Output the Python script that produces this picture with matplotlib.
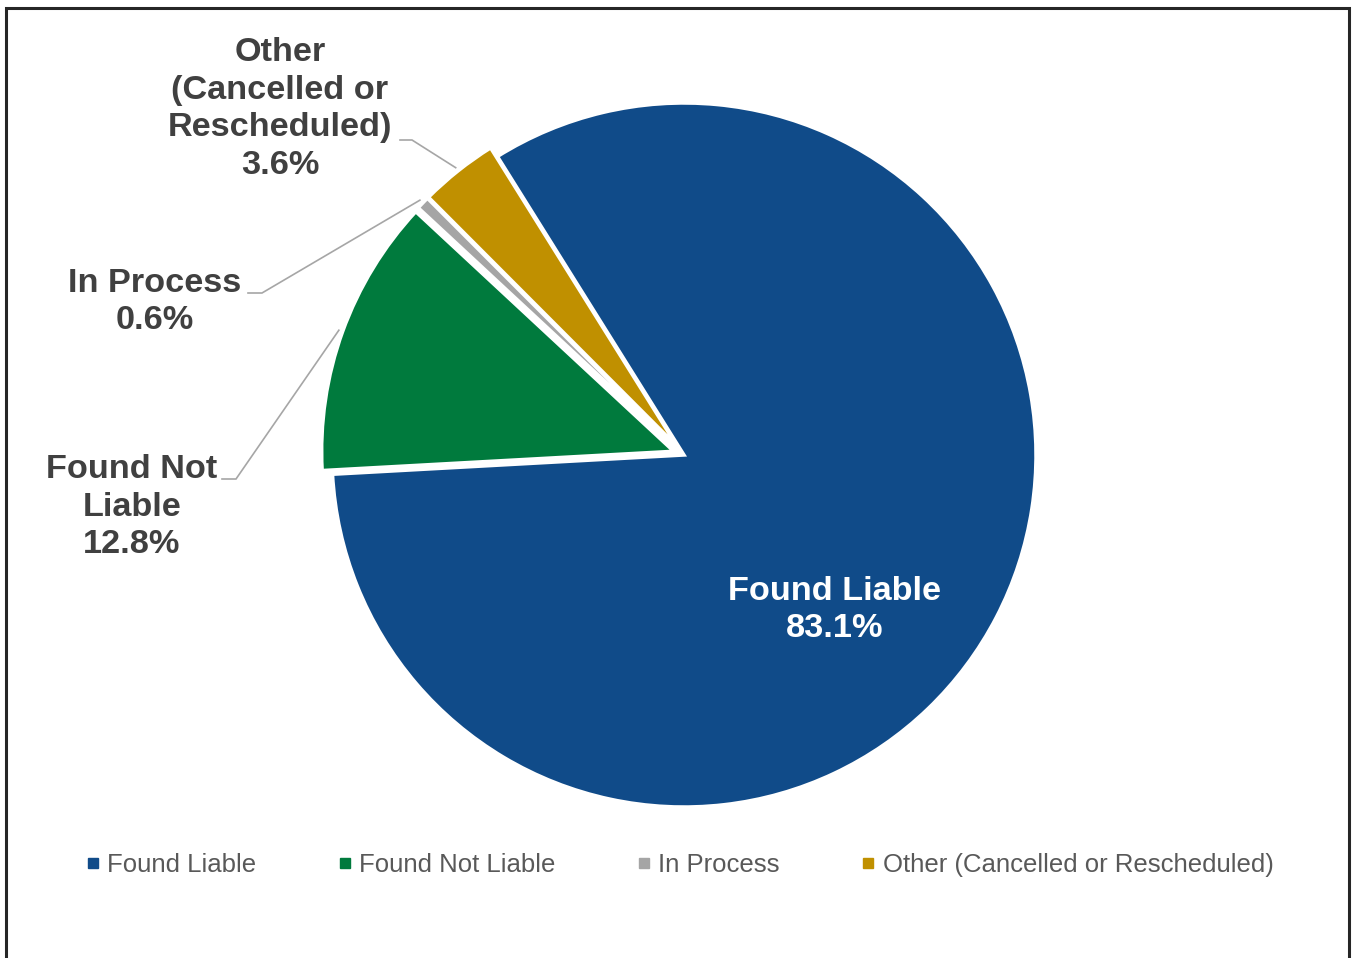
import numpy as np
import matplotlib

matplotlib.use('Agg')
from matplotlib import pyplot as plt
from matplotlib.lines import Line2D
from matplotlib.patches import Rectangle

plt.rcParams['font.family'] = ['Liberation Sans', 'DejaVu Sans']

categories = ['Found Liable', 'Found Not Liable', 'In Process', 'Other (Cancelled or Rescheduled)']
label_names = ['Found Liable', 'Found Not\nLiable', 'In Process', 'Other\n(Cancelled or\nRescheduled)']
shares = [83.1, 12.8, 0.6, 3.6]
colors = ['#104B89', '#007A3D', '#A5A5A5', '#C09000']

W, H = 1352, 958
CENTER = (684, H - 455)
RADIUS = 352
START = 122
EXPLODE_PX = [0, 11, 11, 11]

# label anchor (text centre) and elbow of leader line, image pixels
label_pos = {1: (132, 507), 2: (155, 302), 3: (280, 109)}
elbow_pos = {1: (236, 479), 2: (262, 293), 3: (412, 140)}
elbow_start = {1: (222, 479), 2: (248, 293), 3: (400, 140)}

LABEL_FS = 24.7
LABEL_LS = 1.29

fig = plt.figure(figsize=(W / 100, H / 100), dpi=100)
ax = fig.add_axes([0, 0, 1, 1])
ax.axis('off')

wedges, _ = ax.pie(shares, colors=colors, explode=EXPLODE_PX, startangle=START,
                   counterclock=False, center=CENTER, radius=RADIUS,
                   wedgeprops=dict(edgecolor='white', linewidth=2.5))
ax.set_xlim(0, W)
ax.set_ylim(0, H)
ax.set_aspect('equal')

for i, w in enumerate(wedges):
    pct = f'{shares[i]:.1f}%'
    mid = np.deg2rad((w.theta1 + w.theta2) / 2)
    if i == 0:
        ax.text(835, H - 610, f'{label_names[i]}\n{pct}', color='white',
                fontsize=LABEL_FS, fontweight='bold', ha='center', va='center',
                linespacing=LABEL_LS)
        continue
    cx, cy = w.center
    r_tip = RADIUS + 4
    tip = (cx + r_tip * np.cos(mid), cy + r_tip * np.sin(mid))
    lx, ly = label_pos[i]
    ex, ey = elbow_pos[i]
    sx, sy = elbow_start[i]
    ax.plot([sx, ex, tip[0]], [H - sy, H - ey, tip[1]], color='#A6A6A6', lw=1.2,
            solid_joinstyle='miter')
    ax.text(lx, H - ly, f'{label_names[i]}\n{pct}', color='#404040',
            fontsize=LABEL_FS, fontweight='bold', ha='center', va='center',
            linespacing=LABEL_LS)

handles = [Line2D([], [], marker='s', linestyle='none', markersize=7,
                  markerfacecolor=c, markeredgecolor=c) for c in colors]
fig.legend(handles, categories, loc='center', bbox_to_anchor=(680 / W, 1 - 865 / H),
           ncol=4, frameon=False, fontsize=18.5, labelcolor='#595959',
           handlelength=0.5, handletextpad=0.3, columnspacing=3.2)

fig.patches.append(Rectangle((6 / W, -0.05), (1349 - 6) / W, 1.05 - 8 / H,
                             transform=fig.transFigure, fill=False,
                             edgecolor='#262626', linewidth=2.2))

fig.savefig('out.png', dpi=100)
